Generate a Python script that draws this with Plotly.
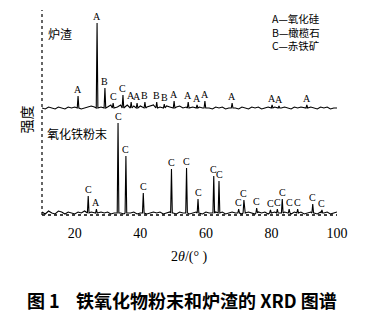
import plotly.graph_objects as go

# ---------------- data ----------------
GRID_START = 10.0
GRID_STEP = 1.0

# hand-read baseline jitter (1 deg steps, 10..100)
lower_noise = [1, -1, 2, 0, -1, 2, 1, -1, 1, 0,
               -1, 1, 0, 2, -1, 1, 0, -1, 1, 0,
               1, -1, 0, 1, 0, -1, 1, 0, 1, -1,
               0, 1, -1, 0, 1, 0, 1, -1, 0, 1,
               0, -1, 1, 0, 1, -1, 0, 1, 0, -1,
               1, 0, -1, 1, 0, 1, -1, 0, 1, 0,
               1, -1, 0, 1, 0, -1, 1, 0, 1, -1,
               0, 1, -1, 0, 1, 0, -1, 1, 0, 1,
               -1, 0, 1, 0, -1, 1, 0, 1, -1, 0, 1]
upper_noise = [0, -1, 1, 0, -1, 1, 0, -1, 1, 0,
               1, 0, -1, 0, 1, 2, 1, 0, 1, 2,
               1, 3, 2, 1, 3, 2, 3, 1, 2, 3,
               2, 3, 1, 2, 3, 2, 1, 3, 2, 1,
               2, 1, 2, 0, 1, 2, 1, 0, 1, 0,
               1, 0, -1, 1, 0, 1, -1, 0, 1, 0,
               -1, 1, 0, -1, 1, 0, 1, -1, 0, 1,
               0, 1, -1, 0, 1, 0, -1, 1, 0, 1,
               0, -1, 1, 0, -1, 1, 0, 1, -1, 0, 0]

# iron oxide powder (lower pattern)
lower_pos = [24.1, 26.6, 33.2, 35.6, 40.9, 49.5, 54.1, 57.6, 62.4, 64.0,
             70.0, 71.6, 75.5, 79.7, 81.8, 83.3, 85.4, 88.0, 92.6, 95.4]
lower_h = [17, 4, 90, 57, 20, 44, 45, 14, 37, 32,
           4, 13, 5, 3, 4, 14, 4, 4, 9, 3]
lower_lbl = ["C", "A", "C", "C", "C", "C", "C", "C", "C", "C",
             "C", "C", "C", "C", "C", "C", "C", "C", "C", "C"]

# slag (upper pattern)
upper_pos = [21.0, 26.8, 29.2, 31.7, 34.7, 37.2, 39.0, 41.4, 45.0, 47.3,
             50.3, 54.6, 57.3, 59.7, 68.0, 80.2, 82.3, 90.8]
upper_h = [12, 85, 20, 5, 13, 6, 5, 6, 6, 4,
           7, 6, 3, 7, 5, 3, 2, 3]
upper_lbl = ["A", "A", "B", "C", "C", "A", "A", "B", "B", "B",
             "A", "A", "A", "A", "A", "A", "A", "A"]

x_ticks = [20, 40, 60, 80, 100]
legend_lines = ["A—氧化硅", "B—橄榄石", "C—赤铁矿"]
sample_names = ["炉渣", "氧化铁粉末"]
x_title = "2<i>θ</i>/(° )"
y_title = "强度"
caption = "<b>图 1    铁氧化物粉末和炉渣的 XRD 图谱</b>"

LOWER_BASE = 2
UPPER_BASE = 107


def build(pos, h, noise, base):
    pts = []
    for i, n in enumerate(noise):
        x = GRID_START + i * GRID_STEP
        if all(abs(x - p) > 0.4 for p in pos):
            pts.append((x, base + n))
    for p, hh in zip(pos, h):
        pts += [(p - 0.25, base), (p, base + hh), (p + 0.25, base)]
    pts.sort()
    xs, ys = zip(*pts)
    return list(xs), list(ys)


lx, ly = build(lower_pos, lower_h, lower_noise, LOWER_BASE)
ux, uy = build(upper_pos, upper_h, upper_noise, UPPER_BASE)

fig = go.Figure()
fig.add_trace(go.Scatter(x=lx, y=ly, mode="lines",
                         line=dict(color="black", width=1.1), hoverinfo="skip"))
fig.add_trace(go.Scatter(x=ux, y=uy, mode="lines",
                         line=dict(color="black", width=1.1), hoverinfo="skip"))

serif = "Liberation Serif"
cjk = "Noto Sans CJK SC"
anns = []
for p, hh, t in zip(lower_pos, lower_h, lower_lbl):
    anns.append(dict(x=p, y=LOWER_BASE + hh, text=t, showarrow=False,
                     yanchor="bottom", yshift=0, borderpad=0,
                     font=dict(family=serif, size=10, color="black")))
for p, hh, t in zip(upper_pos, upper_h, upper_lbl):
    anns.append(dict(x=p, y=UPPER_BASE + hh, text=t, showarrow=False,
                     yanchor="bottom", yshift=0, borderpad=0,
                     font=dict(family=serif, size=10, color="black")))

# legend text (one block)
anns.append(dict(xref="paper", yref="paper", x=0.775, y=0.885,
                 text="<br>".join(legend_lines), showarrow=False, align="left",
                 xanchor="left", yanchor="middle", borderpad=0,
                 font=dict(family=cjk, size=10.5, color="black")))
# sample names
anns.append(dict(xref="paper", yref="paper", x=0.015, y=0.875, text=sample_names[0],
                 showarrow=False, xanchor="left", yanchor="middle",
                 font=dict(family=cjk, size=12, color="black")))
anns.append(dict(xref="paper", yref="paper", x=0.01, y=0.396, text=sample_names[1],
                 showarrow=False, xanchor="left", yanchor="middle",
                 font=dict(family=cjk, size=12, color="black")))
# axis titles
anns.append(dict(xref="paper", yref="paper", x=0.50, y=-0.205, text=x_title,
                 showarrow=False, xanchor="center", yanchor="middle",
                 font=dict(family=serif, size=14, color="black")))
anns.append(dict(xref="paper", yref="paper", x=-0.055, y=0.46, text=y_title,
                 showarrow=False, textangle=-90, xanchor="center", yanchor="middle",
                 font=dict(family=cjk, size=14, color="black")))
# caption
anns.append(dict(xref="paper", yref="paper", x=0.475, y=-0.41, text=caption,
                 showarrow=False, xanchor="center", yanchor="middle",
                 font=dict(family=cjk, size=18, color="black")))

fig.update_layout(
    width=367, height=316,
    margin=dict(l=42, r=30, t=8, b=101),
    paper_bgcolor="white", plot_bgcolor="white",
    showlegend=False,
    annotations=anns,
    xaxis=dict(range=[10, 100], tickvals=x_ticks, ticks="", showgrid=False,
               zeroline=False, showline=False, ticklabelstandoff=8,
               tickfont=dict(family=serif, size=14, color="black")),
    yaxis=dict(range=[0, 207], showticklabels=False, ticks="", showgrid=False,
               zeroline=False, showline=False),
    shapes=[
        dict(type="line", xref="paper", yref="paper", x0=0, x1=0, y0=0, y1=0.99,
             line=dict(color="black", width=1.2, dash="dot")),
        dict(type="line", xref="paper", yref="paper", x0=0, x1=1, y0=0, y1=0,
             line=dict(color="black", width=1.6, dash="dot")),
    ],
)

fig.write_html("out.html")
